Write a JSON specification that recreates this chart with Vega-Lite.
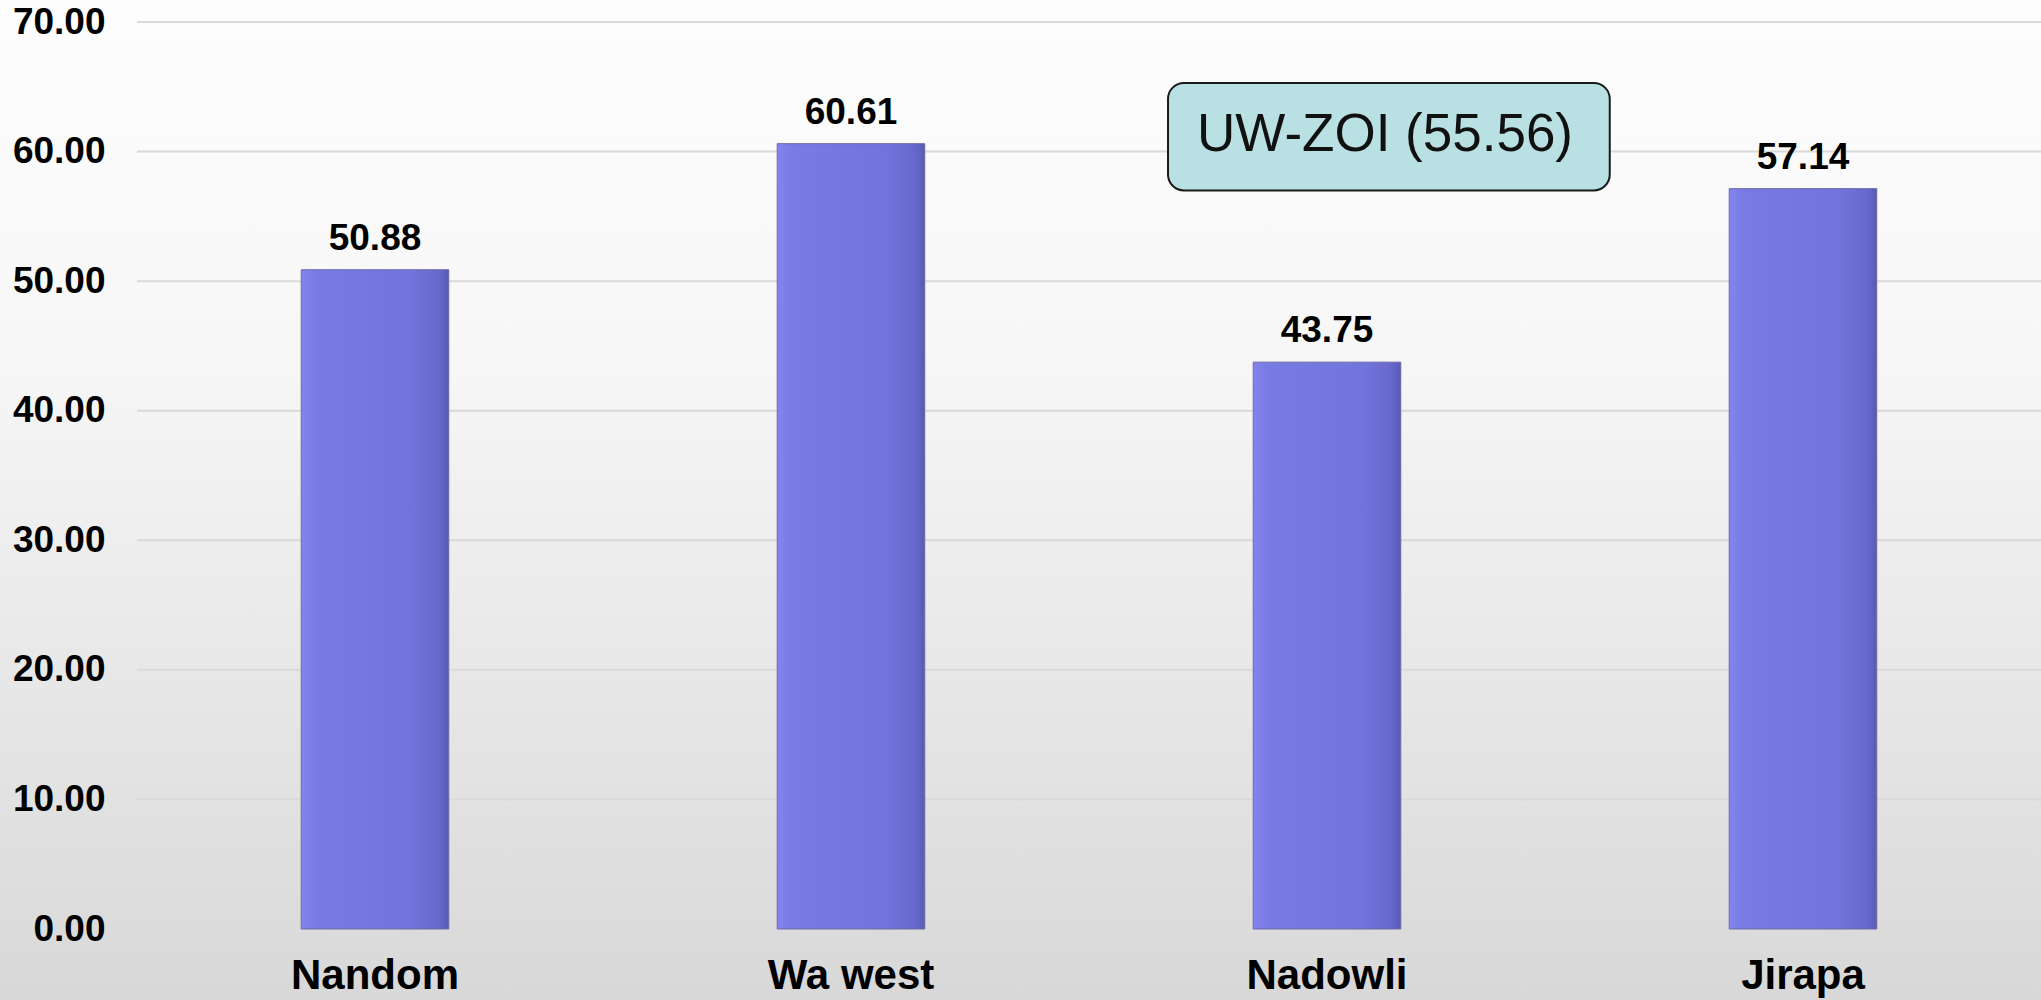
{
  "$schema": "https://vega.github.io/schema/vega-lite/v6.json",
  "width": 2041,
  "height": 1000,
  "autosize": {"type": "none"},
  "padding": 0,
  "background": "#d9d9d9",
  "config": {
    "view": {
      "stroke": null,
      "fill": {
        "gradient": "linear", "x1": 0, "y1": 0, "x2": 0, "y2": 1,
        "stops": [
          {"offset": 0, "color": "#fdfdfd"},
          {"offset": 0.35, "color": "#f7f7f7"},
          {"offset": 1, "color": "#d8d8d8"}
        ]
      }
    },
    "font": "Liberation Sans"
  },
  "datasets": {
    "bars": [
      {"district": "Nandom", "value": 50.88},
      {"district": "Wa west", "value": 60.61},
      {"district": "Nadowli", "value": 43.75},
      {"district": "Jirapa", "value": 57.14}
    ],
    "grid": [
      {"tick": 10}, {"tick": 20}, {"tick": 30}, {"tick": 40},
      {"tick": 50}, {"tick": 60}, {"tick": 70}
    ],
    "note": [{"label": "UW-ZOI (55.56)"}]
  },
  "layer": [
    {
      "data": {"name": "grid"},
      "mark": {"type": "rule", "stroke": "#d9d9d9", "strokeWidth": 2},
      "encoding": {
        "y": {"field": "tick", "type": "quantitative",
              "scale": {"domain": [0, 70], "range": [929, 22], "nice": false, "zero": false},
              "axis": {"orient": "left", "offset": -105, "values": [0, 10, 20, 30, 40, 50, 60, 70], "format": ".2f", "labelPadding": 0, "ticks": false, "tickSize": 0, "domain": false, "grid": false, "labelFontSize": 37, "labelFontWeight": "bold", "labelColor": "#000000", "labelFont": "Liberation Sans", "title": null}},
        "x": {"datum": 0, "type": "quantitative", "scale": {"domain": [0, 4], "range": [137, 2041], "nice": false, "zero": false}, "axis": null},
        "x2": {"datum": 4}
      }
    },
    {
      "data": {"name": "bars"},
      "mark": {
        "type": "bar",
        "stroke": "#6a6aa8",
        "strokeWidth": 1,
        "fill": {
          "gradient": "linear", "x1": 0, "y1": 0, "x2": 1, "y2": 0,
          "stops": [
            {"offset": 0, "color": "#8484ee"},
            {"offset": 0.1, "color": "#7a7ae4"},
            {"offset": 0.75, "color": "#7373dc"},
            {"offset": 0.93, "color": "#6868cc"},
            {"offset": 1, "color": "#5a5ab4"}
          ]
        }
      },
      "encoding": {
        "x": {"field": "district", "type": "nominal", "sort": null,
              "scale": {"type": "band", "range": [137, 2041], "paddingInner": 0.69, "paddingOuter": 0.345},
              "axis": {"orient": "bottom", "offset": -45, "labelPadding": 0, "ticks": false, "tickSize": 0, "domain": false, "grid": false, "labelAngle": 0, "labelFontSize": 42, "labelFontWeight": "bold", "labelColor": "#000000", "labelFont": "Liberation Sans", "title": null}},
        "y": {"field": "value", "type": "quantitative",
              "scale": {"domain": [0, 70], "range": [929, 22], "nice": false, "zero": false},
              "axis": {"orient": "left", "offset": -105, "values": [0, 10, 20, 30, 40, 50, 60, 70], "format": ".2f", "labelPadding": 0, "ticks": false, "tickSize": 0, "domain": false, "grid": false, "labelFontSize": 37, "labelFontWeight": "bold", "labelColor": "#000000", "labelFont": "Liberation Sans", "title": null}}
      }
    },
    {
      "data": {"name": "bars"},
      "mark": {"type": "text", "baseline": "alphabetic", "dy": -20, "fontSize": 37, "fontWeight": "bold", "font": "Liberation Sans", "color": "#000000"},
      "encoding": {
        "x": {"field": "district", "type": "nominal", "sort": null,
              "scale": {"type": "band", "range": [137, 2041], "paddingInner": 0.69, "paddingOuter": 0.345},
              "axis": null},
        "y": {"field": "value", "type": "quantitative",
              "scale": {"domain": [0, 70], "range": [929, 22], "nice": false, "zero": false},
              "axis": {"orient": "left", "offset": -105, "values": [0, 10, 20, 30, 40, 50, 60, 70], "format": ".2f", "labelPadding": 0, "ticks": false, "tickSize": 0, "domain": false, "grid": false, "labelFontSize": 37, "labelFontWeight": "bold", "labelColor": "#000000", "labelFont": "Liberation Sans", "title": null}},
        "text": {"field": "value", "type": "quantitative", "format": ".2f"}
      }
    },
    {
      "data": {"name": "note"},
      "mark": {"type": "rect", "fill": "#b9e0e3", "stroke": "#1a1a1a", "strokeWidth": 2, "cornerRadius": 16},
      "encoding": {
        "x": {"datum": 2.166, "type": "quantitative", "scale": {"domain": [0, 4], "range": [137, 2041], "nice": false, "zero": false}, "axis": null},
        "x2": {"datum": 3.094},
        "y": {"datum": 65.3, "type": "quantitative",
              "scale": {"domain": [0, 70], "range": [929, 22], "nice": false, "zero": false},
              "axis": {"orient": "left", "offset": -105, "values": [0, 10, 20, 30, 40, 50, 60, 70], "format": ".2f", "labelPadding": 0, "ticks": false, "tickSize": 0, "domain": false, "grid": false, "labelFontSize": 37, "labelFontWeight": "bold", "labelColor": "#000000", "labelFont": "Liberation Sans", "title": null}},
        "y2": {"datum": 57.0}
      }
    },
    {
      "data": {"name": "note"},
      "mark": {"type": "text", "align": "left", "baseline": "alphabetic", "fontSize": 53, "font": "Liberation Sans", "fontWeight": "normal", "color": "#111111"},
      "encoding": {
        "x": {"datum": 2.227, "type": "quantitative", "scale": {"domain": [0, 4], "range": [137, 2041], "nice": false, "zero": false}, "axis": null},
        "y": {"datum": 60.04, "type": "quantitative",
              "scale": {"domain": [0, 70], "range": [929, 22], "nice": false, "zero": false},
              "axis": {"orient": "left", "offset": -105, "values": [0, 10, 20, 30, 40, 50, 60, 70], "format": ".2f", "labelPadding": 0, "ticks": false, "tickSize": 0, "domain": false, "grid": false, "labelFontSize": 37, "labelFontWeight": "bold", "labelColor": "#000000", "labelFont": "Liberation Sans", "title": null}},
        "text": {"field": "label", "type": "nominal"}
      }
    }
  ],
  "resolve": {"scale": {"x": "independent"}, "axis": {"x": "independent"}}
}
